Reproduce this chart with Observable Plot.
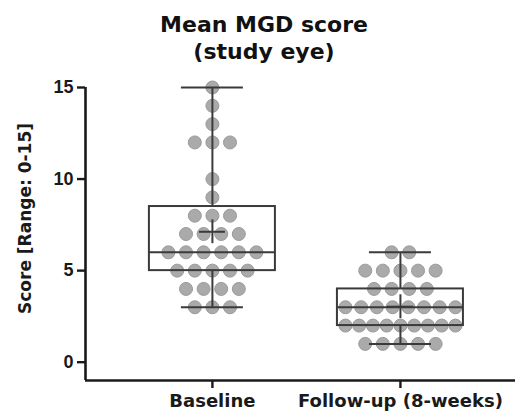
<!DOCTYPE html>
<html>
<head>
<meta charset="utf-8">
<script src="https://cdn.jsdelivr.net/npm/d3@7"></script>
<script src="https://cdn.jsdelivr.net/npm/@observablehq/plot@0.6"></script>
<style>
  html, body { margin: 0; padding: 0; background: #fff; }
  #title { box-sizing: border-box; width: 521px; height: 70px; padding-top: 11px; padding-left: 7px;
    font-family: "DejaVu Sans", sans-serif; font-weight: bold; font-size: 22px; line-height: 27px;
    text-align: center; color: #111; }
</style>
</head>
<body>
<div id="title">Mean MGD score<br>(study eye)</div>
<div id="chart"></div>
<script>
// ---- data ----
const groups = ["Baseline", "Follow-up (8-weeks)"];
const baselineScores = [15, 14, 13, 12, 10, 9, 8, 7, 6, 5, 4, 3];
const baselineCounts = [1, 1, 1, 3, 1, 1, 3, 4, 6, 5, 4, 3];
const followupScores = [6, 5, 4, 3, 2, 1];
const followupCounts = [2, 5, 4, 8, 9, 5];
const yTicks = [0, 5, 10, 15];
const yLabel = "Score [Range: 0-15]";

// ---- layout constants ----
const W = 521, H = 343;
const mL = 85, mR = 6, mT = 17, mB = 33;
const xDomain = [-0.675, 1.612];
const yDomain = [-1, 15];
const pxPerUnit = (W - mL - mR) / (xDomain[1] - xDomain[0]);
const pxPerY = (H - mT - mB) / (yDomain[1] - yDomain[0]);
const boxHalf = 63 / pxPerUnit, capHalf = 31 / pxPerUnit, meanHalfX = 13 / pxPerUnit;
const meanHalfY = 0.65;

const series = [
  {g: 0, scores: baselineScores, counts: baselineCounts},
  {g: 1, scores: followupScores, counts: followupCounts}
];

// points (beeswarm-like row layout)
const points = [];
const stats = [];
for (const s of series) {
  const vals = [];
  s.scores.forEach((v, i) => {
    const n = s.counts[i];
    const step = n > 1 ? Math.min(17.6, 110 / (n - 1)) / pxPerUnit : 0;
    for (let k = 0; k < n; k++) {
      points.push({x: s.g + (k - (n - 1) / 2) * step, y: v});
      vals.push(v);
    }
  });
  vals.sort((a, b) => a - b);
  const q = p => {
    const pos = (vals.length + 1) * p;
    const lo = Math.floor(pos), f = pos - lo;
    return vals[lo - 1] + f * (vals[lo] - vals[lo - 1]);
  };
  stats.push({g: s.g, min: vals[0], max: vals[vals.length - 1], q1: q(0.25), med: q(0.5), q3: q(0.75), mean: d3.mean(vals)});
}

// y-label anchor (in scale units, placed left of the axis)
const labelPos = [{x: xDomain[0] - 60 / pxPerUnit, y: yDomain[1] - (148 - mT) / pxPerY}];

const lineColor = "#3a3a3a";
const axisColor = "#1a1a1a";

const plot = Plot.plot({
  width: W, height: H,
  marginLeft: mL, marginRight: mR, marginTop: mT, marginBottom: mB,
  style: {fontFamily: "DejaVu Sans", fontWeight: "bold", color: axisColor, background: "#fff", overflow: "visible"},
  x: {domain: xDomain, axis: null},
  y: {domain: yDomain, axis: null},
  marks: [
    Plot.dot(points, {x: "x", y: "y", r: 6.5, fill: "#aaaaaa", stroke: "#9a9a9a", strokeWidth: 1}),
    // box
    Plot.rect(stats, {x1: d => d.g - boxHalf, x2: d => d.g + boxHalf, y1: "q1", y2: "q3", fill: "none", stroke: lineColor, strokeWidth: 2}),
    Plot.ruleY(stats, {y: "med", x1: d => d.g - boxHalf, x2: d => d.g + boxHalf, stroke: lineColor, strokeWidth: 2}),
    // whiskers
    Plot.ruleX(stats, {x: "g", y1: "q3", y2: "max", stroke: lineColor, strokeWidth: 2}),
    Plot.ruleX(stats, {x: "g", y1: "min", y2: "q1", stroke: lineColor, strokeWidth: 2}),
    Plot.ruleY(stats, {y: "max", x1: d => d.g - capHalf, x2: d => d.g + capHalf, stroke: lineColor, strokeWidth: 2}),
    Plot.ruleY(stats, {y: "min", x1: d => d.g - capHalf, x2: d => d.g + capHalf, stroke: lineColor, strokeWidth: 2}),
    // mean cross
    Plot.ruleY(stats, {y: "mean", x1: d => d.g - meanHalfX, x2: d => d.g + meanHalfX, stroke: lineColor, strokeWidth: 2}),
    Plot.ruleX(stats, {x: "g", y1: d => d.mean - meanHalfY, y2: d => d.mean + meanHalfY, stroke: lineColor, strokeWidth: 2}),
    // axes
    Plot.ruleX([xDomain[0]], {y1: yDomain[0], y2: yDomain[1], stroke: axisColor, strokeWidth: 2.6}),
    Plot.ruleY([yDomain[0]], {x1: xDomain[0], x2: xDomain[1], stroke: axisColor, strokeWidth: 2.6}),
    Plot.axisY(yTicks, {tickSize: 8, tickPadding: 4, strokeWidth: 2.4, fontSize: 18, fontFamily: "Liberation Sans", fontWeight: "bold", label: null, fill: axisColor, stroke: axisColor}),
    Plot.axisX([0, 1], {tickSize: 8, tickPadding: 6, strokeWidth: 2.4, fontSize: 18, fontFamily: "DejaVu Sans", fontWeight: "bold", tickFormat: i => groups[i], label: null, fill: axisColor, stroke: axisColor}),
    Plot.text(labelPos, {x: "x", y: "y", text: () => yLabel, rotate: -90, fontSize: 17, fontFamily: "DejaVu Sans", fontWeight: "bold", fill: axisColor})
  ]
});
document.getElementById("chart").appendChild(plot);
</script>
</body>
</html>
